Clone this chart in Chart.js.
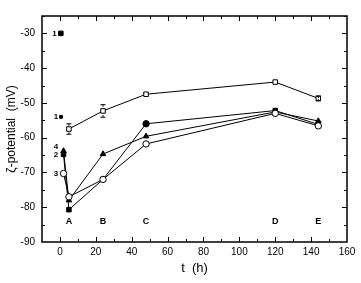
<!DOCTYPE html>
<html>
<head>
<meta charset="utf-8">
<script src="https://cdn.jsdelivr.net/npm/chart.js@4.4.0/dist/chart.umd.min.js"></script>
<style>
body{margin:0;background:#fff;}
canvas{display:block;}
</style>
</head>
<body>
<canvas id="zeta" width="361" height="283"></canvas>
<script>
// sampling times (h)
const hours = [2, 5, 24, 48, 120, 144];
const sqHours = [5, 24, 48, 120, 144];

// zeta potential (mV)
const openSquare = [-57.5, -52.3, -47.5, -44, -48.7];
const openSquareErr = [1.5, 1.8, 0, 0, 0.7];
const filledSeries = [-64.8, -80.7, -72, -56, -52.2, -56.2];
const triSeries = [-63.8, -78, -64.7, -59.6, -52.6, -55.2];
const openCircle = [-70.3, -77, -72, -61.8, -53, -56.6];
const refPoint = [{x: 0.5, y: -30}];
const tagPoint = [{x: 0.6, y: -54}];

// text marks on the plot
const sampleLetters = ['A', 'B', 'C', 'D', 'E'];
const letterHours = [5, 24, 48, 120, 144];
const letterLevel = -84;
const seriesTags = [
    {x: -3, y: -30, t: '1'},
    {x: -2.2, y: -54, t: '1'},
    {x: -2.2, y: -62.6, t: '4'},
    {x: -2.2, y: -64.8, t: '2'},
    {x: -2.2, y: -70.3, t: '3'}
];

const pts = (xs, ys) => xs.map((x, i) => ({x, y: ys[i]}));

function series(label, data, style, filled) {
    return {
        label,
        data,
        showLine: true,
        borderColor: '#000',
        borderWidth: 1,
        pointStyle: style,
        pointRadius: 3.2,
        pointBorderWidth: 1,
        pointBorderColor: '#000',
        pointBackgroundColor: filled ? '#000' : '#fff'
    };
}

const frame = {
    id: 'frame',
    afterDatasetsDraw(chart) {
        const {ctx, chartArea: a, scales: {x, y}} = chart;
        ctx.save();
        ctx.strokeStyle = '#000';
        ctx.lineWidth = 1;
        // error bars on the open-square series
        openSquare.forEach((v, i) => {
            const e = openSquareErr[i];
            if (!e) return;
            const px = x.getPixelForValue(sqHours[i]);
            const t = y.getPixelForValue(v + e), b = y.getPixelForValue(v - e);
            ctx.beginPath();
            ctx.moveTo(px, t); ctx.lineTo(px, t + 2);
            ctx.moveTo(px, b); ctx.lineTo(px, b - 2);
            ctx.moveTo(px - 2.5, t); ctx.lineTo(px + 2.5, t);
            ctx.moveTo(px - 2.5, b); ctx.lineTo(px + 2.5, b);
            ctx.stroke();
        });
        // box + inward ticks
        ctx.lineWidth = 1.5;
        ctx.strokeRect(a.left, a.top, a.right - a.left, a.bottom - a.top);
        ctx.lineWidth = 1;
        ctx.beginPath();
        for (let v = 0; v <= 150; v += 10) {
            const px = Math.round(x.getPixelForValue(v)) + 0.5;
            const len = v % 20 === 0 ? 5 : 3;
            ctx.moveTo(px, a.bottom); ctx.lineTo(px, a.bottom - len);
            ctx.moveTo(px, a.top); ctx.lineTo(px, a.top + len);
        }
        for (let v = -85; v <= -25; v += 5) {
            const py = Math.round(y.getPixelForValue(v)) + 0.5;
            const len = v % 10 === 0 ? 5 : 3;
            ctx.moveTo(a.left, py); ctx.lineTo(a.left + len, py);
            ctx.moveTo(a.right, py); ctx.lineTo(a.right - len, py);
        }
        ctx.stroke();
        // labels
        ctx.fillStyle = '#000';
        ctx.textAlign = 'center';
        ctx.textBaseline = 'middle';
        ctx.font = 'bold 9px "Liberation Sans", Arial, sans-serif';
        sampleLetters.forEach((s, i) => {
            ctx.fillText(s, x.getPixelForValue(letterHours[i]), y.getPixelForValue(letterLevel));
        });
        ctx.font = 'bold 8px "Liberation Sans", Arial, sans-serif';
        seriesTags.forEach(s => {
            ctx.fillText(s.t, x.getPixelForValue(s.x), y.getPixelForValue(s.y));
        });
        ctx.restore();
    }
};

new Chart(document.getElementById('zeta'), {
    type: 'scatter',
    data: {
        datasets: [
            series('open square', pts(sqHours, openSquare), 'rect', false),
            series('open circle', pts(hours, openCircle), 'circle', false),
            series('triangle', pts(hours, triSeries), 'triangle', true),
            series('filled', pts(hours, filledSeries), ['rect', 'rect', 'rect', 'circle', 'rect', 'rect'], true),
            Object.assign(series('ref', refPoint, 'rect', true), {showLine: false}),
            Object.assign(series('tag', tagPoint, 'rect', true), {showLine: false, pointRadius: 2})
        ]
    },
    options: {
        responsive: false,
        animation: false,
        layout: {padding: {top: 16, right: 14, left: 0, bottom: 0}},
        plugins: {legend: {display: false}, tooltip: {enabled: false}},
        scales: {
            x: {
                type: 'linear',
                min: -10,
                max: 160,
                grid: {display: false, drawTicks: false},
                border: {display: false},
                ticks: {
                    stepSize: 10,
                    padding: 4,
                    autoSkip: false,
                    maxRotation: 0,
                    minRotation: 0,
                    color: '#000',
                    font: {family: '"Liberation Sans", Arial, sans-serif', size: 10},
                    callback: v => (v >= 0 && v % 20 === 0) ? String(v) : ''
                },
                title: {
                    display: true,
                    text: 't  (h)',
                    color: '#000',
                    font: {family: '"Liberation Sans", Arial, sans-serif', size: 13},
                    padding: {top: 2, bottom: 7}
                },
                afterFit: s => { s.height = 41; }
            },
            y: {
                min: -90,
                max: -25,
                grid: {display: false, drawTicks: false},
                border: {display: false},
                ticks: {
                    stepSize: 5,
                    padding: 7,
                    color: '#000',
                    font: {family: '"Liberation Sans", Arial, sans-serif', size: 10},
                    callback: v => v % 10 === 0 ? v : ''
                },
                title: {
                    display: true,
                    text: 'ζ-potential  (mV)',
                    color: '#000',
                    font: {family: '"Liberation Sans", Arial, sans-serif', size: 12},
                    padding: {top: 4, bottom: 2}
                },
                afterFit: s => { s.width = 42; }
            }
        }
    },
    plugins: [frame]
});
</script>
</body>
</html>
